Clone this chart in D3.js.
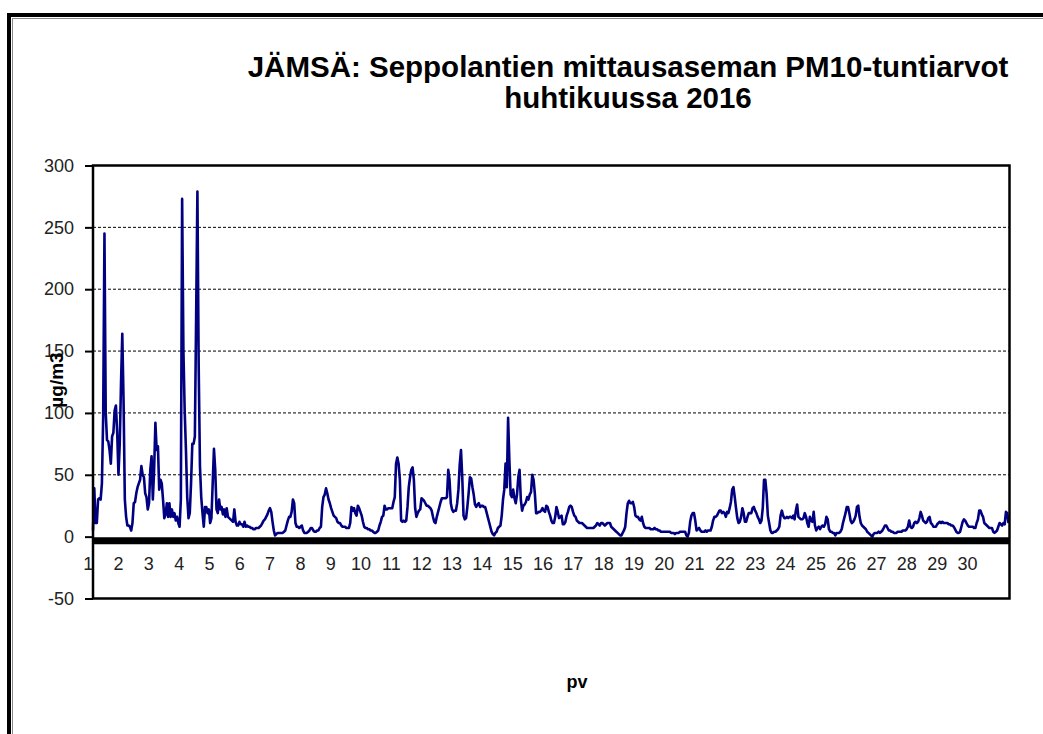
<!DOCTYPE html>
<html>
<head>
<meta charset="utf-8">
<script src="https://cdn.jsdelivr.net/npm/d3@7"></script>
<style>
body { margin: 0; background: #fff; }
text { font-family: Arial, "Liberation Sans", sans-serif; }
</style>
</head>
<body>
<div class="pmChart"></div>
<script>
// PM10 hourly values (µg/m3), 24 per day
var days1to10 = [
    5,39,11,11,30,31,30,43,97,245,100,78,77,70,59,81,84,102,106,84,50,75,124,164,
    110,30,16,9,9,8,5,11,27,28,35,40,43,46,57,50,48,35,32,22,27,54,65,30,
    54,92,70,73,38,46,43,30,15,18,27,16,27,16,22,16,19,13,16,11,8,30,273,151,
    102,70,32,15,19,43,75,75,81,178,279,138,57,32,19,8,24,24,19,22,11,15,43,71,
    54,22,19,30,22,24,18,22,16,23,16,15,14,13,12,22,12,9,9,12,10,10,8,12,
    8,9,8,8,7,7,6,6,7,7,7,8,9,11,13,14,16,18,21,23,20,12,5,1,
    2,3,3,3,3,3,4,5,9,13,16,16,20,30,27,11,8,8,7,8,9,5,3,3,
    3,4,5,7,7,5,4,4,5,5,7,8,24,32,34,39,35,30,27,23,20,17,16,15,
    12,11,11,9,8,8,8,7,7,7,11,24,21,23,19,17,25,23,20,17,12,8,7,7,
    6,6,5,5,4,3,3,4,5,9,12,16,17,25,22,22,23,23,23,23,28,32,59,64
];
var days11to20 = [
    59,46,13,12,13,12,13,24,40,48,54,56,46,23,16,19,21,22,31,30,29,27,25,25,
    24,23,21,16,12,11,16,20,24,28,31,31,31,31,32,54,46,27,22,20,21,21,27,38,
    58,70,48,17,14,15,24,35,48,47,40,34,26,24,26,27,24,25,25,24,24,20,16,12,
    8,4,2,1,3,4,7,8,9,17,30,38,59,40,96,62,34,32,38,31,27,34,48,54,
    30,21,25,26,28,32,30,34,36,50,46,35,19,19,20,20,21,23,21,20,25,24,20,17,
    13,11,11,16,24,20,15,16,17,10,10,12,17,20,24,25,24,20,17,16,13,12,11,11,
    11,10,9,8,7,7,7,7,7,7,8,9,11,10,9,11,11,10,9,10,11,11,11,8,
    7,6,5,4,3,2,1,1,3,5,8,19,27,29,27,27,28,24,17,16,16,14,13,16,
    11,8,7,7,7,7,6,6,6,7,6,6,5,5,4,4,4,4,4,4,4,4,3,3,
    3,2,3,3,3,4,4,4,4,4,1,0,3,12,17,19,19,13,5,6,7,5,4,4
];
var days21to30 = [
    4,5,4,5,5,5,8,13,16,16,17,19,21,21,19,20,19,16,20,19,23,28,38,40,
    32,23,15,11,12,16,23,19,12,12,16,19,19,19,23,24,21,19,16,14,11,13,23,46,
    46,35,17,11,5,3,3,4,4,5,6,8,17,21,17,15,15,16,15,16,16,15,17,14,
    21,26,16,15,14,14,15,19,16,11,8,16,13,12,20,9,5,7,8,6,8,9,8,10,
    16,14,6,4,4,3,3,1,3,3,3,4,6,11,15,19,24,24,19,13,11,12,14,17,
    24,25,16,11,9,8,7,6,4,3,2,1,0,2,3,3,3,4,3,4,5,7,9,9,
    7,5,5,4,4,3,3,3,4,4,4,4,5,5,5,6,8,13,8,7,8,11,12,11,
    12,15,20,17,13,12,11,12,15,16,11,10,8,8,8,10,11,12,11,12,11,11,11,11,
    10,10,9,9,8,6,4,3,3,4,8,12,14,13,11,9,8,8,8,8,7,7,11,14,
    21,21,18,16,11,10,9,8,7,7,7,4,3,4,5,8,11,10,9,11,10,20,19,11
];
var dayLabels = d3.range(1, 31);
var yTicks = [-50, 0, 50, 100, 150, 200, 250, 300];
var gridLines = [50, 100, 150, 200, 250];
var titleLines = ["JÄMSÄ: Seppolantien mittausaseman PM10-tuntiarvot", "huhtikuussa 2016"];

var pm10 = days1to10.concat(days11to20, days21to30);

var W = 1043, H = 734;
var plot = {left: 93, right: 1009.5, top: 165.5, bottom: 598.5};

var svg = d3.select(".pmChart").append("svg")
    .attr("width", W)
    .attr("height", H);

// outer frame (thick black + thin grey inside)
svg.append("rect")
    .attr("x", 9).attr("y", 15)
    .attr("width", 1200).attr("height", 900)
    .style("fill", "none").style("stroke", "#000").style("stroke-width", 4);
svg.append("rect")
    .attr("x", 12.5).attr("y", 18.5)
    .attr("width", 1200).attr("height", 900)
    .style("fill", "none").style("stroke", "#888").style("stroke-width", 1);

var x = d3.scaleLinear().domain([0, pm10.length - 1]).range([plot.left, plot.right - 1]);
var y = d3.scaleLinear().domain([-50, 300]).range([plot.bottom, plot.top]);
// day labels sit a little left of each day's first hour in the original
var xDay = d3.scaleLinear().domain([1, 30]).range([87.7, 967]);

// gridlines
svg.append("g").selectAll("line").data(gridLines).enter()
    .append("line")
    .attr("x1", plot.left).attr("x2", plot.right)
    .attr("y1", function(d) { return y(d); })
    .attr("y2", function(d) { return y(d); })
    .style("stroke", "#000")
    .style("stroke-width", 1)
    .style("stroke-dasharray", "3,2");

// data line
var line = d3.line()
    .x(function(d, i) { return x(i); })
    .y(function(d) { return y(d); });
svg.append("path")
    .datum(pm10)
    .attr("d", line)
    .style("fill", "none")
    .style("stroke", "#000080")
    .style("stroke-width", 2.6)
    .style("stroke-linejoin", "round");

// thick zero line
svg.append("line")
    .attr("x1", plot.left).attr("x2", plot.right)
    .attr("y1", y(0) + 4).attr("y2", y(0) + 4)
    .style("stroke", "#000")
    .style("stroke-width", 7);

// plot border
svg.append("rect")
    .attr("x", plot.left).attr("y", plot.top)
    .attr("width", plot.right - plot.left)
    .attr("height", plot.bottom - plot.top)
    .style("fill", "none")
    .style("stroke", "#000")
    .style("stroke-width", 2.5);

// y axis (plain hyphen for negatives, like the original)
var yAxis = svg.append("g")
    .attr("transform", "translate(" + plot.left + ",0)")
    .call(d3.axisLeft(y).tickValues(yTicks).tickSize(8).tickPadding(11)
        .tickFormat(function(d) { return String(d); }));
yAxis.select(".domain").remove();
yAxis.selectAll("line").style("stroke", "#000").style("stroke-width", 2);
yAxis.selectAll("text")
    .style("font-size", "18px")
    .style("font-family", "Arial, 'Liberation Sans', sans-serif")
    .style("fill", "#222");

// x (day) labels
var xAxis = svg.append("g")
    .attr("transform", "translate(0,548)")
    .call(d3.axisBottom(xDay).tickValues(dayLabels).tickSize(0).tickPadding(9));
xAxis.select(".domain").remove();
xAxis.selectAll("text")
    .style("font-size", "18px")
    .style("font-family", "Arial, 'Liberation Sans', sans-serif")
    .style("fill", "#222");

// titles
svg.selectAll(".title").data(titleLines).enter()
    .append("text")
    .attr("class", "title")
    .attr("x", 628)
    .attr("y", function(d, i) { return 77 + i * 31; })
    .attr("text-anchor", "middle")
    .style("font-size", "29.5px")
    .style("font-weight", "bold")
    .style("fill", "#000")
    .text(function(d) { return d; });

svg.append("text")
    .attr("transform", "translate(63,380) rotate(-90)")
    .attr("text-anchor", "middle")
    .style("font-size", "19px")
    .style("font-weight", "bold")
    .text("µg/m3");

svg.append("text")
    .attr("x", 577).attr("y", 688)
    .attr("text-anchor", "middle")
    .style("font-size", "18px")
    .style("font-weight", "bold")
    .text("pv");
</script>
</body>
</html>
